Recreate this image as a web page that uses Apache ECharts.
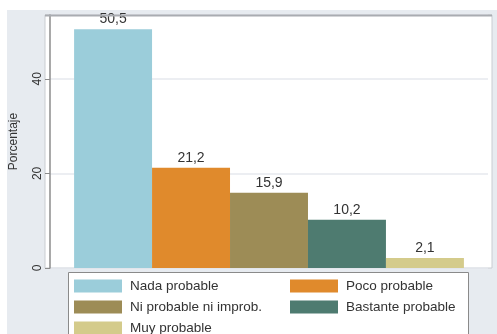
<!DOCTYPE html>
<html><head><meta charset="utf-8">
<script src="https://cdn.jsdelivr.net/npm/echarts@6/dist/echarts.min.js"></script>
<style>html,body{margin:0;padding:0;background:#fff}#c{width:497px;height:334px}</style>
</head><body><div id="c"></div>
<script>
const categories = ['Nada probable','Poco probable','Ni probable ni improb.','Bastante probable','Muy probable'];
const values = [50.5, 21.2, 15.9, 10.2, 2.1];
const colors = ['#9bcdda','#e08a2c','#9d8c56','#4e7b70','#d4cb8b'];
const yTicks = [0, 20, 40];

const chart = echarts.init(document.getElementById('c'));
const font = 'Liberation Sans, Arial, sans-serif';
const series = categories.map((name, i) => ({
  name: name,
  type: 'bar',
  data: [values[i]],
  itemStyle: { color: colors[i] },
  barGap: '0%',
  barCategoryGap: '11%',
  label: {
    show: true, position: 'top', distance: 3,
    formatter: p => String(p.value.toFixed(1)).replace('.', ','),
    color: '#333', fontSize: 14, fontFamily: font
  }
}));
const legendCommon = {
  orient: 'vertical', top: 279, z: 10, padding: 0,
  itemWidth: 48, itemHeight: 13, itemGap: 7, height: 60,
  icon: 'rect',
  textStyle: { color: '#333', fontSize: 13.5, fontFamily: font, padding: [0,0,0,3] }
};
chart.setOption({
  animation: false,
  textStyle: { fontFamily: font },
  graphic: [
    { type: 'rect', z: -10, shape: { x: 7, y: 10, width: 490, height: 324 }, style: { fill: '#e7ebf0' } },
    { type: 'rect', z: -5, shape: { x: 45, y: 15, width: 447, height: 253 }, style: { fill: '#ffffff', stroke: '#c9ccd1', lineWidth: 1 } },
    { type: 'line', z: 5, shape: { x1: 45, y1: 15.5, x2: 492, y2: 15.5 }, style: { stroke: '#a9acb1', lineWidth: 2 } },
    { type: 'rect', z: 5, shape: { x: 68.5, y: 272.5, width: 400, height: 70 }, style: { fill: '#ffffff', stroke: '#8a8a8a', lineWidth: 1 } }
  ],
  grid: { left: 45, top: 15, right: 9, bottom: 66 },
  xAxis: {
    type: 'category', data: [''],
    axisLine: { show: false }, axisTick: { show: false }, axisLabel: { show: false }
  },
  yAxis: {
    type: 'value', min: 0, max: 53.5, interval: 20,
    name: 'Porcentaje', nameLocation: 'middle', nameGap: 30, nameRotate: 90,
    nameTextStyle: { color: '#333', fontSize: 12, fontFamily: font },
    axisLine: { show: true, lineStyle: { color: '#8c8c8c', width: 1.5 } },
    axisTick: { show: true, length: 5, lineStyle: { color: '#8c8c8c' } },
    axisLabel: {
      rotate: 90, color: '#333', fontSize: 12, margin: 6, fontFamily: font,
      formatter: v => yTicks.includes(v) ? String(v) : ''
    },
    splitLine: { show: true, lineStyle: { color: '#e6e9ee', width: 1.5 } }
  },
  legend: [
    Object.assign({ data: [categories[0], categories[2], categories[4]], left: 74 }, legendCommon),
    Object.assign({ data: [categories[1], categories[3]], left: 290 }, legendCommon)
  ],
  series: series
});
</script></body></html>
